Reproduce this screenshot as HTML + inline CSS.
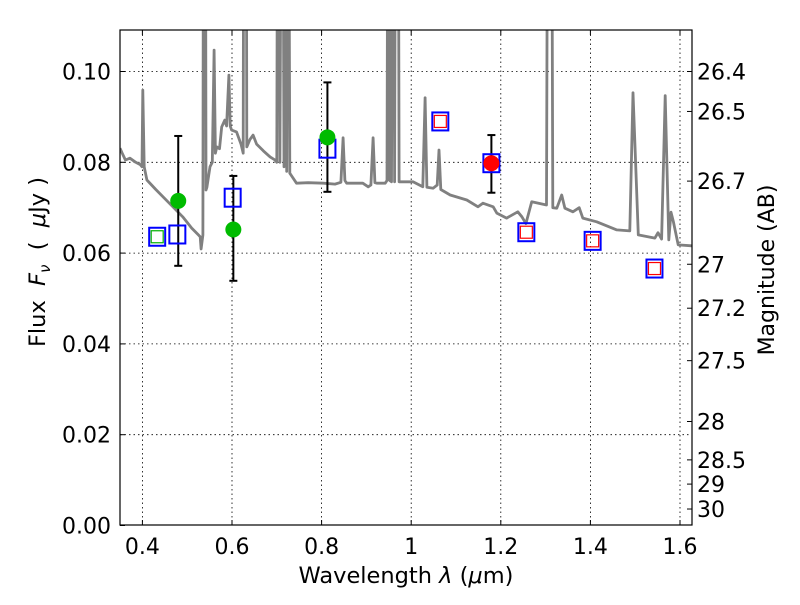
<!DOCTYPE html>
<html><head><meta charset="utf-8"><style>
body{margin:0;background:#fff;}
svg text{font-family:"DejaVu Sans","Liberation Sans",sans-serif;fill:#000;}
</style></head><body>
<svg id="chart" width="800" height="600" xmlns="http://www.w3.org/2000/svg">
<rect width="800" height="600" fill="#fff"/>
<defs><clipPath id="clip"><rect x="120" y="30" width="572" height="495"/></clipPath></defs>
<g id="grid"></g>
<g id="spec" clip-path="url(#clip)"></g>
<g id="marks"></g>
<rect x="120" y="30" width="572" height="495" fill="none" stroke="#000" stroke-width="1.2"/>
<g id="axes"></g>
<text x="406" y="583" font-size="22.5" text-anchor="middle">Wavelength  <tspan font-style="italic">λ</tspan> (<tspan font-style="italic">μ</tspan>m)</text>
<text transform="translate(45,262) rotate(-90)" font-size="22.5" text-anchor="middle" xml:space="preserve">Flux  <tspan font-style="italic">F</tspan><tspan font-style="italic" font-size="15" dy="5">ν</tspan><tspan dy="-5">  (  </tspan><tspan font-style="italic">μ</tspan>Jy )</text>
<text transform="translate(774,270) rotate(-90)" font-size="22" text-anchor="middle">Magnitude (AB)</text>
</svg>
<script>
const xTicks=[0.4,0.6,0.8,1.0,1.2,1.4,1.6];
const xTickLabels=["0.4","0.6","0.8","1","1.2","1.4","1.6"];
const yTicks=[0,0.02,0.04,0.06,0.08,0.10];
const yTickLabels=["0.00","0.02","0.04","0.06","0.08","0.10"];
const magTicks=[26.4,26.5,26.7,27,27.2,27.5,28,28.5,29,30];
const magTickLabels=["26.4","26.5","26.7","27","27.2","27.5","28","28.5","29","30"];
const specLam=[0.350,0.355,0.362,0.372,0.385,0.395,0.399,0.401,0.404,0.410,0.430,0.460,0.490,0.510,0.525,0.529,0.531,0.535,0.537,0.540,0.542,0.544,0.551,0.556,0.560,0.563,0.566,0.572,0.577,0.584,0.588,0.593,0.596,0.599,0.610,0.620,0.625,0.627,0.631,0.633,0.640,0.647,0.655,0.670,0.685,0.696,0.700,0.703,0.707,0.712,0.716,0.718,0.722,0.725,0.729,0.733,0.744,0.770,0.804,0.830,0.843,0.848,0.852,0.856,0.892,0.904,0.910,0.915,0.919,0.923,0.942,0.946,0.949,0.952,0.956,0.960,0.963,0.966,0.970,0.973,0.982,1.004,1.026,1.031,1.035,1.049,1.058,1.062,1.066,1.087,1.124,1.149,1.160,1.183,1.191,1.213,1.238,1.247,1.256,1.269,1.302,1.306,1.312,1.316,1.325,1.336,1.343,1.361,1.375,1.383,1.414,1.459,1.488,1.495,1.507,1.544,1.551,1.559,1.567,1.575,1.580,1.585,1.596,1.626];
const specFlux=[.0831,.0820,.0805,.0809,.0800,.0795,.0790,.0959,.0790,.0761,.0740,.0710,.0680,.0655,.0640,.0636,.0609,.0640,.2,.2,.0739,.0745,.0790,.0800,.1047,.0820,.0834,.0830,.0878,.0893,.0880,.0992,.0880,.0871,.0867,.0840,.0820,.2,.2,.0834,.0850,.0860,.0840,.0825,.0812,.0805,.0800,.2,.0800,.2,.0790,.2,.0780,.2,.0776,.0770,.0754,.0755,.0754,.0752,.0756,.0854,.0760,.0754,.0754,.0746,.0750,.0854,.0755,.0754,.0754,.0760,.2,.0760,.0757,.2,.0757,.2,.2,.0757,.0757,.0757,.0746,.0942,.0745,.0743,.0750,.0827,.0740,.0728,.0717,.0702,.0710,.0702,.0688,.0677,.0691,.0680,.0665,.0713,.0706,.2,.2,.0700,.0699,.0728,.0699,.0691,.0700,.0677,.0669,.0651,.0649,.0953,.0640,.0633,.0645,.0631,.0947,.0629,.0690,.0670,.0618,.0616];
const boxLam=[0.433,0.478,0.6015,0.813,1.065,1.179,1.257,1.405,1.543];
const boxFlux=[0.0636,0.0641,0.0722,0.0830,0.0890,0.0798,0.0646,0.0627,0.0566];
const innerColor=["green","","","","red","","red","red","red"];
const gLam=[0.480,0.603,0.813];
const gFlux=[0.0715,0.0652,0.0855];
const gHi=[0.0858,0.0770,0.0976];
const gLo=[0.0572,0.0539,0.0735];
const rLam=[1.179];
const rFlux=[0.0798];
const rHi=[0.0860];
const rLo=[0.0733];

const X0=120,X1=692,Y0=525.5,Y1=30;
const xmin=0.35,xmax=0.35+572/448,ymin=0,ymax=(525.5-30)/4540;
const sx=v=>X0+(v-xmin)/(xmax-xmin)*(X1-X0);
const sy=v=>Y0-(v-ymin)/(ymax-ymin)*(Y0-Y1);
const NS="http://www.w3.org/2000/svg";
function mk(tag,attrs,parent){const e=document.createElementNS(NS,tag);for(const k in attrs)e.setAttribute(k,attrs[k]);parent.appendChild(e);return e;}
const grid=document.getElementById('grid'),axes=document.getElementById('axes'),spec=document.getElementById('spec'),marks=document.getElementById('marks');
xTicks.forEach((t,i)=>{const x=sx(t);
 const g=mk('line',{x1:x,x2:x,y1:Y1,y2:525,stroke:'#000','stroke-width':0.8,'stroke-dasharray':'1.5,3'},grid);
 
 
 mk('line',{x1:x,x2:x,y1:525,y2:520,stroke:'#000'},axes);
 mk('line',{x1:x,x2:x,y1:30,y2:35,stroke:'#000'},axes);
 const tx=mk('text',{x:x,y:554,'font-size':22,'text-anchor':'middle'},axes);tx.textContent=xTickLabels[i];
 
 
});
yTicks.forEach((t,i)=>{const y=sy(t);
 if(t>0){const g=mk('line',{x1:X0,x2:X1,y1:y,y2:y,stroke:'#000','stroke-width':0.8,'stroke-dasharray':'1.5,3'},grid);
 
 }
 mk('line',{x1:120,x2:125,y1:y,y2:y,stroke:'#000'},axes);
 const tx=mk('text',{x:111,y:y+8,'font-size':22,'text-anchor':'end'},axes);tx.textContent=yTickLabels[i];
 
 
});
magTicks.forEach((m,i)=>{const f=Math.pow(10,(23.9-m)/2.5);const y=sy(f);
 mk('line',{x1:692,x2:687,y1:y,y2:y,stroke:'#000'},axes);
 const tx=mk('text',{x:697,y:y+8,'font-size':22},axes);tx.textContent=magTickLabels[i];
 
 
});
const pts=specLam.map((l,i)=>sx(l).toFixed(1)+','+sy(specFlux[i]).toFixed(1)).join(' ');
const pl=mk('polyline',{points:pts,fill:'none',stroke:'#808080','stroke-width':2.8,'stroke-linejoin':'round'},spec);


function errbar(l,lo,hi){const x=sx(l),a=sy(lo),b=sy(hi);
 mk('line',{x1:x,x2:x,y1:a,y2:b,stroke:'#000','stroke-width':2},marks);
 mk('line',{x1:x-4,x2:x+4,y1:a,y2:a,stroke:'#000','stroke-width':2},marks);
 mk('line',{x1:x-4,x2:x+4,y1:b,y2:b,stroke:'#000','stroke-width':2},marks);}
gLam.forEach((l,i)=>errbar(l,gLo[i],gHi[i]));
rLam.forEach((l,i)=>errbar(l,rLo[i],rHi[i]));
boxLam.forEach((l,i)=>{const x=sx(l),y=sy(boxFlux[i]);
 const r=mk('rect',{x:x-8,y:y-9,width:16,height:18,fill:'none',stroke:'#0000ff','stroke-width':2},marks);
 
 
 if(innerColor[i]){const c=innerColor[i]==='green'?'#00b000':'#ff0000';
  const q=mk('rect',{x:x-6,y:y-6,width:12,height:12,fill:'none',stroke:c,'stroke-width':1.2},marks);
  
  }
});
gLam.forEach((l,i)=>{const c=mk('circle',{cx:sx(l),cy:sy(gFlux[i]),r:8,fill:'#00bb00'},marks);
 
 });
rLam.forEach((l,i)=>{const c=mk('circle',{cx:sx(l),cy:sy(rFlux[i]),r:8,fill:'#ff0000'},marks);
 
 });
</script>
</body></html>
